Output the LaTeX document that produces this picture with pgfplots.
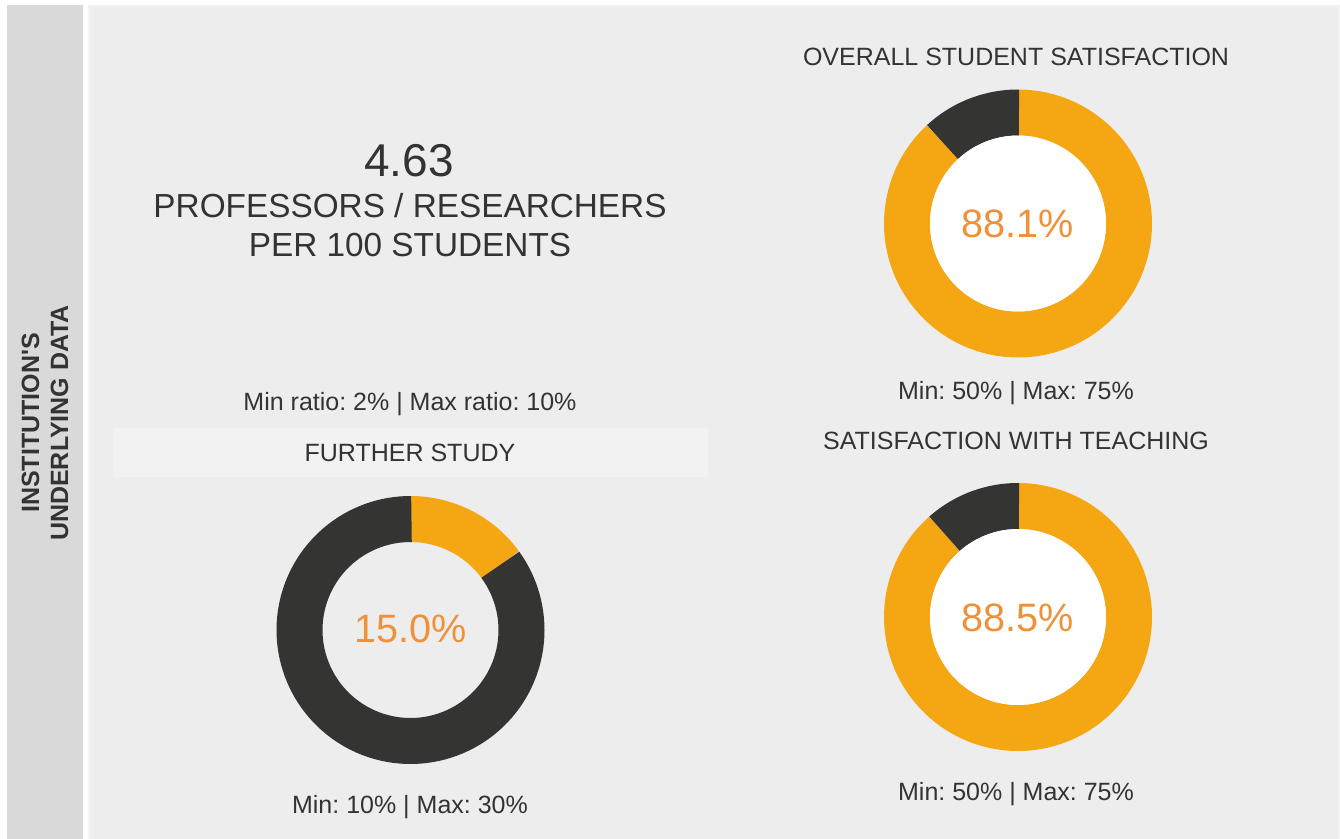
\documentclass[border=0pt]{standalone}
\usepackage{fontspec}
\setmainfont{Liberation Sans}
\usepackage{pgfplots}
\pgfplotsset{compat=1.18}

\definecolor{ringor}{HTML}{F5A713}
\definecolor{ringdk}{HTML}{343432}
\definecolor{pcttxt}{HTML}{F0913A}
\definecolor{txt}{HTML}{333333}
\definecolor{panelbg}{HTML}{EDEDED}
\definecolor{panelrim}{HTML}{F3F3F3}
\definecolor{stripbg}{HTML}{D9D9D9}
\definecolor{boxbg}{HTML}{F2F2F2}

% donut: centre x, centre y, share in %, hole colour (none = background)
\newcommand{\donut}[4]{%
  \addplot[draw=ringor, line width=34.5pt, domain=0:3.6*#3, samples=200, no marks]
    ({#1+111*sin(x)},{#2-111*cos(x)});
  \addplot[draw=ringdk, line width=34.5pt, domain=3.6*#3:360.5, samples=120, no marks]
    ({#1+111*sin(x)},{#2-111*cos(x)});
  \addplot[fill=#4, draw=none, domain=0:360, samples=200, no marks]
    ({#1+88*sin(x)},{#2-88*cos(x)});
}

\begin{document}
\frenchspacing
\begin{tikzpicture}
\begin{axis}[
    hide axis, scale only axis,
    width=1005pt, height=629.25pt,
    xmin=0, xmax=1340, ymin=0, ymax=839,
    y dir=reverse, clip=false,
]
% background panels
\fill[white] (axis cs:0,0) rectangle (axis cs:1340,839);
\fill[stripbg] (axis cs:7,5) rectangle (axis cs:83,839);
\fill[panelrim] (axis cs:88,5) rectangle (axis cs:1340,839);
\fill[panelbg] (axis cs:90,7) rectangle (axis cs:1338,839);
\fill[boxbg] (axis cs:113,428) rectangle (axis cs:708,477);

% donuts
\donut{1018}{223.5}{88.1}{white}
\donut{1018}{617}{88.5}{white}
\donut{410.5}{630}{15.0}{none}

% side label
\node[rotate=90, align=center, text=txt,
      font=\bfseries\fontsize{18.75}{21.75}\selectfont]
  at (axis cs:45,423) {INSTITUTION\textquotesingle S\\UNDERLYING DATA};

% left block
\node[anchor=base, text=txt, font=\fontsize{34.5}{36}\selectfont]
  at (axis cs:409,176.7) {4.63};
\node[anchor=base, text=txt, font=\fontsize{25}{28}\selectfont]
  at (axis cs:410,217.3) {PROFESSORS / RESEARCHERS};
\node[anchor=base, text=txt, font=\fontsize{25}{28}\selectfont]
  at (axis cs:410,256.7) {PER 100 STUDENTS};
\node[anchor=base, text=txt, font=\fontsize{18.75}{22}\selectfont]
  at (axis cs:410,410.7) {Min ratio: 2\% | Max ratio: 10\%};
\node[anchor=base, text=txt, font=\fontsize{18.75}{22}\selectfont]
  at (axis cs:410,461.7) {FURTHER STUDY};
\node[anchor=base, text=pcttxt, font=\fontsize{29.7}{32}\selectfont]
  at (axis cs:410.5,642.7) {15.0\%};
\node[anchor=base, text=txt, font=\fontsize{18.75}{22}\selectfont]
  at (axis cs:410,813.5) {Min: 10\% | Max: 30\%};

% right block
\node[anchor=base, text=txt, font=\fontsize{18.75}{22}\selectfont]
  at (axis cs:1016,65) {OVERALL STUDENT SATISFACTION};
\node[anchor=base, text=pcttxt, font=\fontsize{29.7}{32}\selectfont]
  at (axis cs:1018,237.3) {88.1\%};
\node[anchor=base, text=txt, font=\fontsize{18.75}{22}\selectfont]
  at (axis cs:1016,399.5) {Min: 50\% | Max: 75\%};
\node[anchor=base, text=txt, font=\fontsize{18.75}{22}\selectfont]
  at (axis cs:1016,449) {SATISFACTION WITH TEACHING};
\node[anchor=base, text=pcttxt, font=\fontsize{29.7}{32}\selectfont]
  at (axis cs:1018,631) {88.5\%};
\node[anchor=base, text=txt, font=\fontsize{18.75}{22}\selectfont]
  at (axis cs:1016,800.7) {Min: 50\% | Max: 75\%};
\end{axis}
\end{tikzpicture}
\end{document}
